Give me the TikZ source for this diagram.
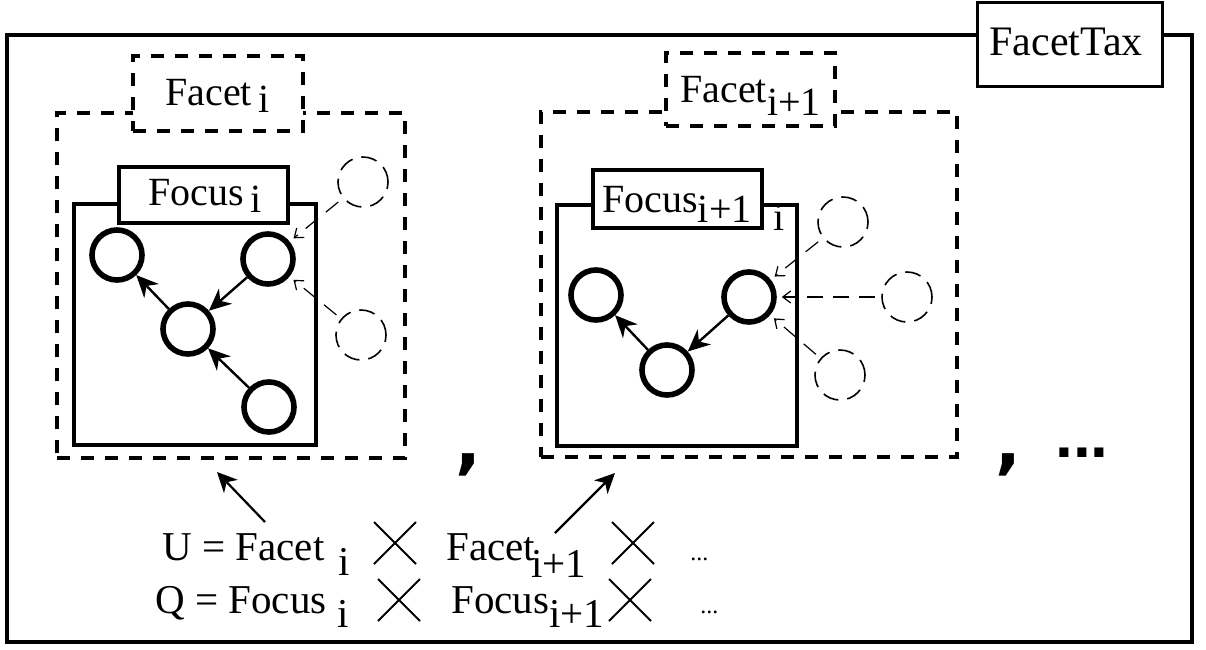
\documentclass[tikz,border=0pt]{standalone}
\usepackage{fontspec}
\setmainfont{Liberation Serif}
\newfontfamily\dotsfont{Liberation Sans}
\newfontfamily\commafont{DejaVu Sans}
\usetikzlibrary{arrows.meta,fit,shapes.misc}
\begin{document}
\begin{tikzpicture}[x=0.5pt,y=-0.5pt,
  frame/.style={draw, line width=2pt, inner sep=0pt},
  dbox/.style={draw, line width=2pt, dash pattern=on 6.5pt off 5.5pt, inner sep=0pt},
  sbox/.style={draw, line width=1.6pt, inner sep=0pt},
  lbox/.style={draw, line width=1.6pt, fill=white, inner sep=0pt},
  dlbox/.style={draw, line width=2pt, dash pattern=on 6.5pt off 5.5pt, fill=white, inner sep=0pt},
  lab/.style={anchor=base west, inner sep=0pt, font=\fontsize{20}{24}\selectfont},
  btxt/.style={anchor=base west, inner sep=0pt, font=\fontsize{20.5}{24}\selectfont},
  smalldots/.style={anchor=base west, inner sep=0pt, font=\fontsize{12}{14}\selectfont},
  bigpunct/.style={anchor=base, inner sep=0pt, font=\commafont\bfseries\fontsize{34}{38}\selectfont},
  vert/.style={circle, draw, line width=2.8pt, minimum size=25pt, inner sep=0pt},
  ghost/.style={circle, draw, line width=0.8pt, dash pattern=on 8pt off 4.5pt, minimum size=25pt, inner sep=0pt},
  sarrow/.style={line width=1.2pt, -{Stealth[length=11pt,width=10pt,inset=3.5pt]}},
  barrow/.style={line width=1.1pt, -{Stealth[length=10pt,width=9.5pt,inset=3pt]}},
  darrow/.style={line width=0.6pt, dash pattern=on 8pt off 5pt, -{Straight Barb[length=4pt,width=6pt]}, shorten >=2.5pt, shorten <=3pt},
  crossx/.style={cross out, draw, line width=1pt, minimum width=20pt, minimum height=20pt, inner sep=0pt},
]
\useasboundingbox (0,0) rectangle (1206,649);

% outer frame
\coordinate (fr1) at (7,35);
\coordinate (fr2) at (1192,642);
\node[frame, fit=(fr1)(fr2)] (frame) {};
\node[lbox, line width=1.5pt, minimum width=92.5pt, minimum height=42pt] (taxbox) at (1069.5,44) {};
\node[lab, font=\fontsize{21}{24}\selectfont] (taxtxt) at (989,55) {FacetTax};

% ---------- panel 1 ----------
\coordinate (p1a) at (57,113);
\coordinate (p1b) at (405,458);
\node[dbox, fit=(p1a)(p1b)] (facetbox1) {};
\node[dlbox, minimum width=85pt, minimum height=37.5pt] (facetlab1) at (218,93.5) {};
\node[lab] (facettxt1) at (165,105) {Facet\,\raisebox{-3.5pt}{i}};

\coordinate (q1a) at (74,204);
\coordinate (q1b) at (316,445);
\node[sbox, fit=(q1a)(q1b)] (focusbox1) {};
\node[lbox, minimum width=84.5pt, minimum height=28pt] (focuslab1) at (203.5,195) {};
\node[lab] (focustxt1) at (148,205) {Focus\,\raisebox{-3.5pt}{i}};

\node[vert] (v1) at (117,255) {};
\node[vert] (v2) at (268,259) {};
\node[vert] (v3) at (188,329) {};
\node[vert] (v4) at (269,407) {};
\node[ghost] (g1) at (363,182) {};
\node[ghost] (g2) at (361,335) {};
\draw[sarrow] (v2) -- (v3);
\draw[sarrow] (v3) -- (v1);
\draw[sarrow] (v4) -- (v3);
\draw[darrow] (g1) -- (v2);
\draw[darrow] (g2) -- (v2);

% ---------- panel 2 ----------
\coordinate (p2a) at (541,112);
\coordinate (p2b) at (957,457);
\node[dbox, fit=(p2a)(p2b)] (facetbox2) {};
\node[dlbox, minimum width=84.5pt, minimum height=36.5pt] (facetlab2) at (750.5,89.5) {};
\node[lab] (facettxt2) at (680,102) {Facet\raisebox{-6.5pt}{i+1}};

\node[lab] (stray) at (773,230) {i};
\coordinate (q2a) at (557,205);
\coordinate (q2b) at (797,446);
\node[sbox, fit=(q2a)(q2b)] (focusbox2) {};
\node[lbox, minimum width=84.5pt, minimum height=29pt] (focuslab2) at (677.5,199) {};
\node[lab] (focustxt2) at (602,212) {Focus\raisebox{-5pt}{i+1}};

\node[vert] (w1) at (596,295) {};
\node[vert] (w2) at (749,297) {};
\node[vert] (w3) at (667,370) {};
\node[ghost] (h1) at (843,222) {};
\node[ghost] (h2) at (907,297) {};
\node[ghost] (h3) at (840,375) {};
\draw[sarrow] (w2) -- (w3);
\draw[sarrow] (w3) -- (w1);
\draw[darrow] (h1) -- (w2);
\draw[darrow] (h2) -- (w2);
\draw[darrow] (h3) -- (w2);

% separators
\node[bigpunct] (comma1) at (468,466) {,};
\node[bigpunct] (comma2) at (1008,466) {,};
\node[anchor=base west, inner sep=0pt, font=\dotsfont\bfseries\fontsize{32}{36}\selectfont] (moredots) at (1055,457) {...};

% ---------- bottom text ----------
\node[btxt] (uline) at (162,560) {U = Facet};
\node[btxt] (usub1) at (338,575) {i};
\node[crossx] (ux1) at (395,543) {};
\node[btxt] (ufacet2) at (446,560) {Facet};
\node[btxt] (usub2) at (531,577) {i+1};
\node[crossx] (ux2) at (633,543) {};
\node[smalldots] (udots) at (690,560) {...};

\node[btxt] (qline) at (155,613) {Q = Focus};
\node[btxt] (qsub1) at (337,627) {i};
\node[crossx] (qx1) at (399,600) {};
\node[btxt] (qfocus2) at (451,613) {Focus};
\node[btxt] (qsub2) at (549,627) {i+1};
\node[crossx] (qx2) at (630,600) {};
\node[smalldots] (qdots) at (700,613) {...};

\coordinate (a1s) at (265,522);
\coordinate (a1e) at (217,472);
\coordinate (a2s) at (555,533);
\coordinate (a2e) at (615,473);
\draw[barrow] (a1s) -- (a1e);
\draw[barrow] (a2s) -- (a2e);
\end{tikzpicture}
\end{document}
